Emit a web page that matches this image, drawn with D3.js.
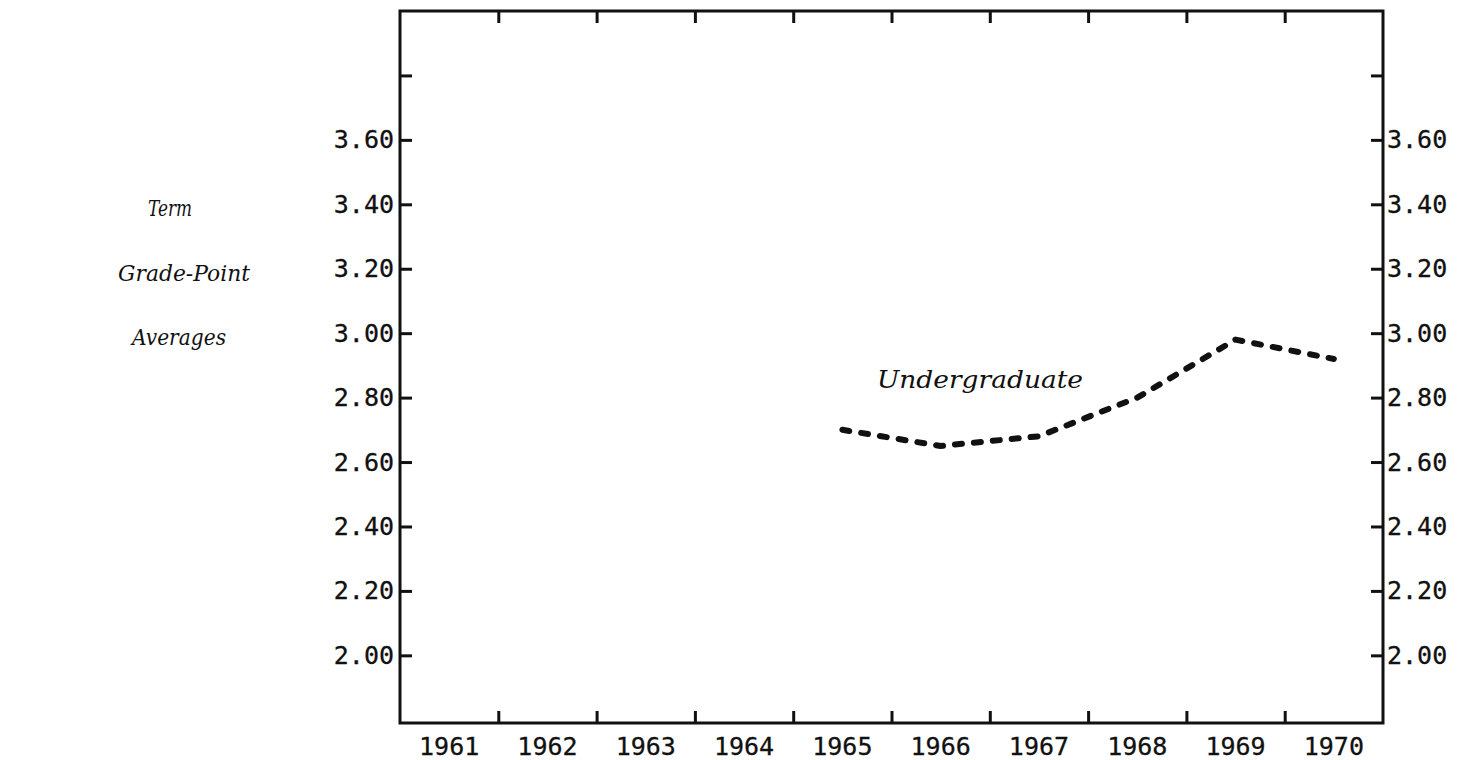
<!DOCTYPE html>
<html>
<head>
<meta charset="utf-8">
<script src="https://cdn.jsdelivr.net/npm/d3@7"></script>
<style>
  body { margin: 0; background: #fff; }
  text { fill: #111; }
</style>
</head>
<body>
<script>
let width = 1458, height = 760

let years = [1961, 1962, 1963, 1964, 1965, 1966, 1967, 1968, 1969, 1970]
let lineYears = [1965, 1966, 1967, 1968, 1969, 1970]
let undergrad = [2.70, 2.65, 2.68, 2.80, 2.98, 2.92]
let yTicks = [2.00, 2.20, 2.40, 2.60, 2.80, 3.00, 3.20, 3.40, 3.60, 3.80]
let yLabeled = [2.00, 2.20, 2.40, 2.60, 2.80, 3.00, 3.20, 3.40, 3.60]
let titleLines = ['Term', 'Grade-Point', 'Averages']

let boxL = 400, boxR = 1383, boxT = 11, boxB = 723

let x = d3.scaleBand().domain(years).range([boxL, boxR])
let y = d3.scaleLinear().domain([1.79, 4.0]).range([boxB, boxT])

let svg = d3.select('body').append('svg')
    .attr('width', width)
    .attr('height', height)

svg.append('rect')
    .attr('width', width).attr('height', height)
    .attr('fill', '#fff')

let mono = '"DejaVu Sans Mono", monospace'
let ital = '"DejaVu Serif", "Liberation Serif", serif'

// frame
svg.append('rect')
    .attr('x', boxL).attr('y', boxT)
    .attr('width', boxR - boxL).attr('height', boxB - boxT)
    .attr('fill', 'none')
    .attr('stroke', '#111')
    .attr('stroke-width', 3)

// y axes: ticks point inward, labels outside
let yAxisL = d3.axisLeft(y).tickValues(yTicks).tickSize(-12)
    .tickFormat(d => yLabeled.includes(d) ? d3.format('.2f')(d) : '')
let yAxisR = d3.axisRight(y).tickValues(yTicks).tickSize(-12)
    .tickFormat(d => yLabeled.includes(d) ? d3.format('.2f')(d) : '')

let gl = svg.append('g').attr('transform', `translate(${boxL},0)`).call(yAxisL)
let gr = svg.append('g').attr('transform', `translate(${boxR},0)`).call(yAxisR)

// x ticks on band boundaries, top and bottom
let bounds = years.slice(1).map(d => x(d))
let xs = d3.scaleLinear().domain([boxL, boxR]).range([boxL, boxR])
let xTop = d3.axisTop(xs).tickValues(bounds).tickSize(-12).tickFormat('')
let xBot = d3.axisBottom(xs).tickValues(bounds).tickSize(-12).tickFormat('')
svg.append('g').attr('transform', `translate(0,${boxT})`).call(xTop)
svg.append('g').attr('transform', `translate(0,${boxB})`).call(xBot)

svg.selectAll('.domain').remove()
svg.selectAll('.tick line').attr('stroke', '#111').attr('stroke-width', 3)

gl.selectAll('.tick text').attr('x', -6)
gr.selectAll('.tick text').attr('x', 4)
svg.selectAll('.tick text')
    .attr('font-family', mono)
    .attr('font-size', 25)
    .attr('fill', '#111')
    .attr('stroke', '#111')
    .attr('stroke-width', 0.3)

// year labels centred in bands
svg.append('g').selectAll('text')
    .data(years)
    .join('text')
    .attr('x', d => x(d) + x.bandwidth() / 2)
    .attr('y', boxB + 32)
    .attr('text-anchor', 'middle')
    .attr('font-family', mono)
    .attr('font-size', 25)
    .attr('stroke', '#111')
    .attr('stroke-width', 0.3)
    .text(d => d)

// axis title, lines sitting on the 3.40 / 3.20 / 3.00 label rows
let titleAt = [3.40, 3.20, 3.00]
let titleX = [148, 118, 132]
let titleW = [44, 132, 94]
svg.append('g').selectAll('text')
    .data(titleLines)
    .join('text')
    .attr('x', (d, i) => titleX[i])
    .attr('y', (d, i) => y(titleAt[i]) + 12)
    .attr('font-family', ital)
    .attr('font-style', 'italic')
    .attr('font-size', 23)
    .attr('textLength', (d, i) => titleW[i])
    .attr('lengthAdjust', 'spacingAndGlyphs')
    .text(d => d)

// undergraduate series
let line = d3.line()
    .x((d, i) => x(lineYears[i]) + x.bandwidth() / 2)
    .y(d => y(d))

svg.append('path')
    .datum(undergrad)
    .attr('d', line)
    .attr('fill', 'none')
    .attr('stroke', '#111')
    .attr('stroke-width', 6)
    .attr('stroke-linecap', 'round')
    .attr('stroke-linejoin', 'round')
    .attr('stroke-dasharray', '7 12')

svg.append('text')
    .attr('x', 877)
    .attr('y', 388)
    .attr('font-family', ital)
    .attr('font-style', 'italic')
    .attr('font-size', 25)
    .attr('textLength', 206)
    .attr('lengthAdjust', 'spacingAndGlyphs')
    .text('Undergraduate')
</script>
</body>
</html>
